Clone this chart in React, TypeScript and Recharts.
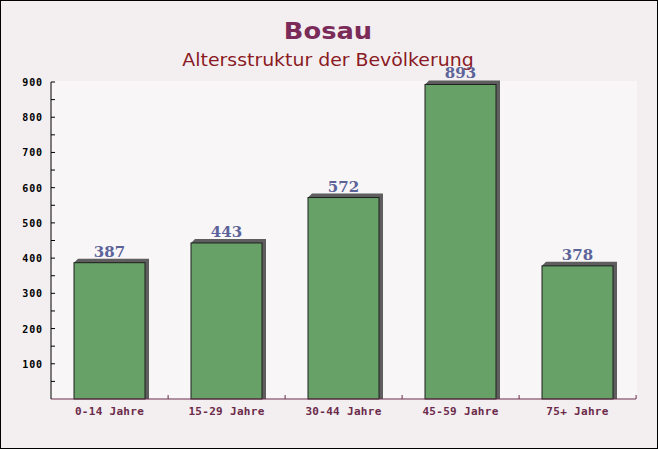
import { BarChart, Bar, XAxis, YAxis, LabelList } from 'recharts';

const categories = ['0-14 Jahre', '15-29 Jahre', '30-44 Jahre', '45-59 Jahre', '75+ Jahre'];
const population = [387, 443, 572, 893, 378];
const yTicks = [50, 100, 150, 200, 250, 300, 350, 400, 450, 500, 550, 600, 650, 700, 750, 800, 850, 900];

const W = 658;
const H = 449;
const LEFT = 50;
const RIGHT = 22;
const BAND = (W - LEFT - RIGHT) / categories.length;

const data = categories.map((name, i) => ({ name, value: population[i] }));

// bar with a grey drop shadow up and to the right
const ShadowBar = (props: any) => {
  const { x, y, width, height } = props;
  const d = 4;
  return (
    <g>
      <polygon
        points={`${x},${y} ${x + d},${y - d} ${x + width + d},${y - d} ${x + width + d},${y + height} ${x + width},${y + height}`}
        fill="#5e5e5e"
      />
      <rect x={x} y={y} width={width} height={height} fill="#68a168" stroke="#1e1e1e" strokeWidth={1} />
    </g>
  );
};

const YTick = (props: any) => {
  const { x, y, payload } = props;
  const major = payload.value % 100 === 0;
  return (
    <g>
      <line x1={x} x2={x + 4} y1={y} y2={y} stroke="#000" />
      {major && (
        <text x={x - 8} y={y + 4} textAnchor="end" fontFamily="DejaVu Sans Mono" fontWeight="bold" fontSize={10} letterSpacing={0.9} fill="#000">
          {payload.value}
        </text>
      )}
    </g>
  );
};

const XTick = (props: any) => {
  const { x, y, payload } = props;
  return (
    <g>
      <line x1={x + BAND / 2} x2={x + BAND / 2} y1={y} y2={y - 4} stroke="#6b2a4a" />
      <text x={x} y={y + 16} textAnchor="middle" fontFamily="DejaVu Sans Mono" fontWeight="bold" fontSize={11} letterSpacing={0.3} fill="#6b2a4a">
        {payload.value}
      </text>
    </g>
  );
};

export default function App() {
  return (
    <div style={{ position: 'absolute', left: 0, top: 0, width: W, height: H, background: '#f3eff1', boxSizing: 'border-box', border: '1px solid #000', overflow: 'hidden' }}>
      <div style={{ position: 'absolute', left: LEFT, top: 80, width: W - LEFT - RIGHT, height: 319, background: '#f8f6f7' }} />
      <div style={{ position: 'absolute', left: 0, top: 0 }}>
        <BarChart width={W - 2} height={H - 2} data={data} margin={{ top: 81, right: RIGHT - 1, bottom: 19, left: 0 }}>
          <text transform="translate(327,37.5) scale(1.12,1)" x={0} y={0} textAnchor="middle" fontFamily="DejaVu Sans" fontWeight="bold" fontSize={23} fill="#7a2b58">
            Bosau
          </text>
          <text transform="translate(327,64.5) scale(1.05,1)" x={0} y={0} textAnchor="middle" fontFamily="DejaVu Sans" fontSize={18} fill="#8a1a24">
            Altersstruktur der Bevölkerung
          </text>
          <XAxis
            dataKey="name"
            height={30}
            tickSize={0}
            tickMargin={0}
            tickLine={false}
            axisLine={{ stroke: '#6b2a4a' }}
            tick={<XTick />}
            interval={0}
          />
          <YAxis
            width={50}
            domain={[0, 900]}
            ticks={yTicks}
            tickSize={0}
            tickMargin={0}
            tickLine={false}
            axisLine={{ stroke: '#000' }}
            tick={<YTick />}
            interval={0}
          />
          <Bar dataKey="value" barSize={71} shape={<ShadowBar />} isAnimationActive={false}>
            <LabelList
              dataKey="value"
              position="top"
              offset={6}
              fontFamily="DejaVu Serif"
              fontWeight="bold"
              fontSize={15}
              fill="#5b6399"
            />
          </Bar>
        </BarChart>
      </div>
    </div>
  );
}
